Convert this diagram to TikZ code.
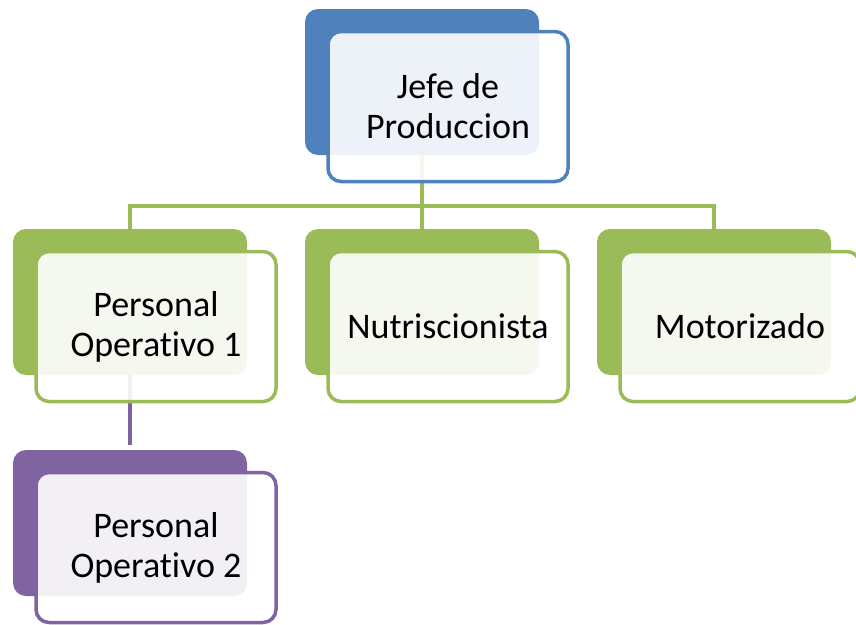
\documentclass[tikz,border=0pt]{standalone}
\usepackage{fontspec}
\setmainfont{Carlito}[Ligatures=NoCommon]
\usetikzlibrary{backgrounds}
\definecolor{azul}{HTML}{4F81BD}
\definecolor{verde}{HTML}{9BBB59}
\definecolor{morado}{HTML}{8064A2}
\begin{document}
\begin{tikzpicture}[x=1pt, y=-1pt, line join=round,
	fondo/.style={rounded corners=13pt, minimum width=234pt, minimum height=146pt, inner sep=0pt},
	caja/.style={line width=3.5pt, rounded corners=13pt, fill=white, fill opacity=0.9, text opacity=1,
		minimum width=240pt, minimum height=150pt, inner sep=0pt, align=center, font=\fontsize{36}{40}\selectfont},
	linea/.style={line width=4.5pt}]
	\useasboundingbox (0,0) rectangle (856,624);
	\foreach \n/\x/\y/\c/\t in {jefe/422/82/azul/{Jefe de\\Produccion},
		po1/130/302/verde/{Personal\\Operativo 1},
		nut/422/302/verde/{Nutriscionista},
		moto/714/302/verde/{Motorizado},
		po2/130/523/morado/{Personal\\Operativo 2}}
	{
		\node[fondo, fill=\c] (b\n) at (\x,\y) {};
		\node[caja, draw=\c] (\n) at ([xshift=26pt, yshift=-24.5pt]b\n.center) {\t};
	}
	\begin{pgfonlayer}{background}
		\path (bjefe.center) ++(0,124) coordinate (bus);
		\draw[linea, verde] (bjefe.center) -- (bus) (bpo1.north) |- (bus) -| (bmoto.north) (bus) -- (bnut.north);
		\draw[linea, morado] (bpo1.center) -- ([yshift=5pt]bpo2.north);
	\end{pgfonlayer}
\end{tikzpicture}
\end{document}
